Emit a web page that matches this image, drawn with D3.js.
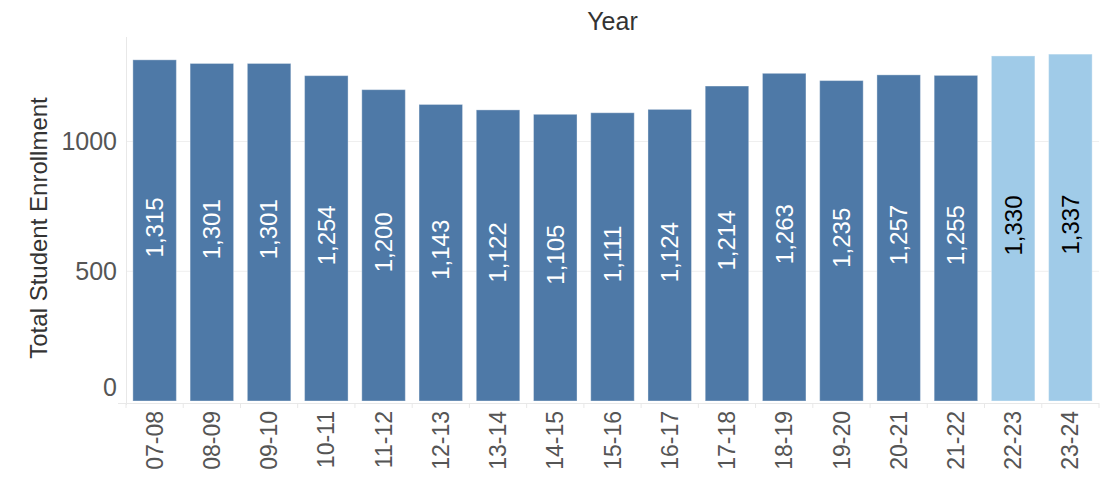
<!DOCTYPE html>
<html>
<head>
<meta charset="utf-8">
<script src="https://cdn.jsdelivr.net/npm/d3@7"></script>
<style>
  body { margin: 0; background: #fff; }
  svg text { font-family: "Liberation Sans", Arial, Helvetica, sans-serif; }
</style>
</head>
<body>
<div id="chart"></div>
<script>
// school years and enrollment totals
const years = ["07-08", "08-09", "09-10", "10-11", "11-12", "12-13", "13-14", "14-15",
  "15-16", "16-17", "17-18", "18-19", "19-20", "20-21", "21-22", "22-23", "23-24"];
const enrollment = [1315, 1301, 1301, 1254, 1200, 1143, 1122, 1105,
  1111, 1124, 1214, 1263, 1235, 1257, 1255, 1330, 1337];
// last two years are projections (lighter colour)
const projected = [false, false, false, false, false, false, false, false,
  false, false, false, false, false, false, false, true, true];
const yTicks = [0, 500, 1000];

const data = years.map((y, i) => ({ year: y, value: enrollment[i], proj: projected[i] }));

const width = 1100, height = 477;
const plot = { left: 126, right: 1099, top: 37, bottom: 401 };

const svg = d3.select("#chart").append("svg")
    .attr("width", width)
    .attr("height", height);

const x = d3.scaleBand()
    .domain(years)
    .range([plot.left, plot.right])
    .paddingInner(0.24)
    .paddingOuter(0.12);

const y = d3.scaleLinear()
    .domain([0, 1403])
    .range([plot.bottom, plot.top]);

// gridlines
svg.append("g")
  .selectAll("line")
  .data(yTicks.filter(d => d > 0))
  .enter().append("line")
    .attr("x1", plot.left).attr("x2", plot.right)
    .attr("y1", d => y(d)).attr("y2", d => y(d))
    .attr("stroke", "#efefef")
    .attr("stroke-width", 1);

// y axis line
svg.append("line")
    .attr("x1", plot.left + 0.5).attr("x2", plot.left + 0.5)
    .attr("y1", plot.top).attr("y2", plot.bottom + 4)
    .attr("stroke", "#e8e8e8");

// x axis line with ticks between bands
svg.append("line")
    .attr("x1", plot.left - 8).attr("x2", plot.right)
    .attr("y1", plot.bottom + 2.5).attr("y2", plot.bottom + 2.5)
    .attr("stroke", "#e8e8e8");
svg.append("g")
  .selectAll("line")
  .data(d3.range(years.length + 1))
  .enter().append("line")
    .attr("x1", i => plot.left + i * x.step())
    .attr("x2", i => plot.left + i * x.step())
    .attr("y1", plot.bottom + 2).attr("y2", plot.bottom + 7)
    .attr("stroke", "#e8e8e8");

// bars
svg.append("g")
  .selectAll("rect")
  .data(data)
  .enter().append("rect")
    .attr("x", d => x(d.year))
    .attr("width", x.bandwidth())
    .attr("y", d => y(d.value))
    .attr("height", d => y(0) - y(d.value))
    .attr("fill", d => d.proj ? "#a0cbe8" : "#4e79a7")
    .attr("stroke", "rgba(255,255,255,0.35)")
    .attr("stroke-width", 1);

// value labels inside bars
const fmt = d3.format(",");
svg.append("g")
  .selectAll("text")
  .data(data)
  .enter().append("text")
    .attr("transform", d => "translate(" + (x(d.year) + x.bandwidth() / 2) + "," + ((y(0) + y(d.value)) / 2 - 3) + ") rotate(-90)")
    .attr("text-anchor", "middle")
    .attr("dy", "0.35em")
    .attr("font-size", 24)
    .attr("fill", d => d.proj ? "#000" : "#fff")
    .text(d => fmt(d.value));

// x tick labels
svg.append("g")
  .selectAll("text")
  .data(years)
  .enter().append("text")
    .attr("transform", d => "translate(" + (x(d) + x.bandwidth() / 2) + "," + (plot.bottom + 10) + ") rotate(-90)")
    .attr("text-anchor", "end")
    .attr("dy", "0.35em")
    .attr("font-size", 23)
    .attr("fill", "#555")
    .text(d => d);

// y tick labels
svg.append("g")
  .selectAll("text")
  .data(yTicks)
  .enter().append("text")
    .attr("x", 117)
    .attr("y", d => d === 0 ? y(0) - 5 : y(d))
    .attr("dy", d => d === 0 ? 0 : "0.35em")
    .attr("text-anchor", "end")
    .attr("font-size", 25)
    .attr("fill", "#555")
    .text(d => d);

// axis titles
svg.append("text")
    .attr("x", (plot.left + plot.right) / 2)
    .attr("y", 30)
    .attr("text-anchor", "middle")
    .attr("font-size", 25)
    .attr("fill", "#333")
    .text("Year");

svg.append("text")
    .attr("transform", "translate(47,228) rotate(-90)")
    .attr("text-anchor", "middle")
    .attr("font-size", 24)
    .attr("fill", "#333")
    .text("Total Student Enrollment");
</script>
</body>
</html>
